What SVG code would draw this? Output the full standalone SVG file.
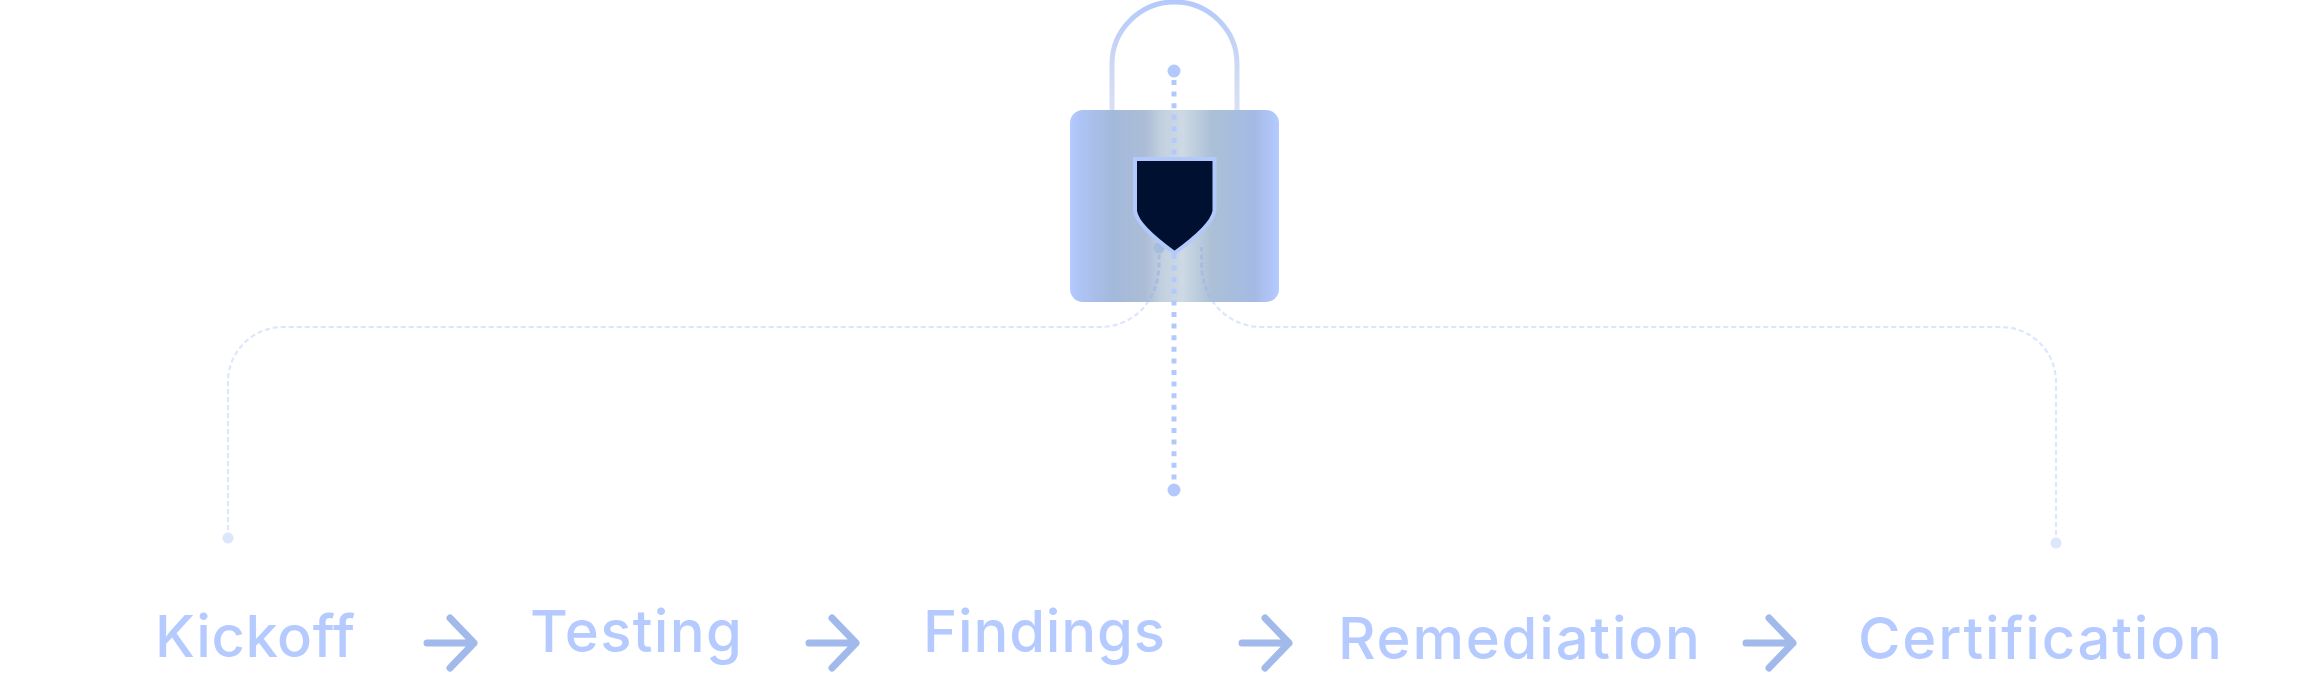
<svg xmlns="http://www.w3.org/2000/svg" width="2302" height="684" viewBox="0 0 2302 684">
<style>
.lbl{font-family:"Inter","Liberation Sans",sans-serif;font-size:58px;font-weight:500;fill:#b5caff}
.arrow{fill:none;stroke:#a2b9ec;stroke-width:7;stroke-linecap:round;stroke-linejoin:round}
.side{fill:none;stroke:#dce6fd;stroke-width:2.200;stroke-dasharray:5 3}
.sidein{fill:none;stroke:#a7bde0;stroke-width:3;stroke-dasharray:5 3}
.mid{fill:none;stroke:#b3c9fb;stroke-width:5;stroke-dasharray:5 6.6}
</style>
<defs>
<linearGradient id="body" x1="0" x2="1" y1="0" y2="0">
<stop offset="0" stop-color="#b5caff"/><stop offset=".04" stop-color="#aec4f6"/><stop offset=".2" stop-color="#a3b9dc"/><stop offset=".36" stop-color="#abbdd6"/><stop offset=".44" stop-color="#c3d0df"/><stop offset=".54" stop-color="#cdd9e4"/><stop offset=".68" stop-color="#abc0d6"/><stop offset=".88" stop-color="#a4bae4"/><stop offset="1" stop-color="#b5caff"/>
</linearGradient>
<linearGradient id="shackle" gradientUnits="userSpaceOnUse" x1="0" x2="0" y1="0" y2="110">
<stop offset="0" stop-color="#b3c9fb"/><stop offset=".55" stop-color="#cbd7f3"/><stop offset="1" stop-color="#d8e0f2"/>
</linearGradient>
<clipPath id="bodyclip"><rect x="1070" y="110" width="209" height="192"/></clipPath>
<path id="leftline" d="M228 538V382A55 55 0 0 1 283 327H1100C1130 327 1159 305 1159 262V254"/>
<path id="rightline" d="M2056 543V382A55 55 0 0 0 2001 327H1262C1232 327 1201.500 305 1201.500 262V247"/>
</defs>
<g id="connectors">
<use href="#leftline" class="side"/>
<use href="#rightline" class="side"/>
</g>
<g id="lock">
<path d="M1112 110V64C1112 30 1140 2 1174.500 2S1237 30 1237 64V110" fill="none" stroke="url(#shackle)" stroke-width="5"/>
<rect x="1070" y="110" width="209" height="192" rx="13" fill="url(#body)"/>
<g clip-path="url(#bodyclip)">
<use href="#leftline" class="sidein"/>
<use href="#rightline" class="sidein"/>
</g>
<circle cx="1159" cy="248" r="5.500" fill="#a7bde0"/>
</g>
<g id="centre-line">
<path class="mid" d="M1174 80V484"/>
<circle cx="1174" cy="71" r="6.500" fill="#b3c9fb"/>
<circle cx="1174" cy="490" r="6.500" fill="#b3c9fb"/>
</g>
<g id="shield">
<path d="M1135 159H1214.500V211Q1212 226 1174.500 253Q1137 226 1135 211Z" fill="#001030" stroke="#b3c9fb" stroke-width="4"/>
</g>
<g id="dots">
<circle cx="228" cy="538" r="5.500" fill="#dce6fd"/>
<circle cx="2056" cy="543" r="5.500" fill="#dce6fd"/>
</g>
<g id="kickoff"><text class="lbl" x="155" y="657" textLength="200">Kickoff</text></g>
<g id="testing"><text class="lbl" x="530" y="652" textLength="212">Testing</text></g>
<g id="findings"><text class="lbl" x="923" y="652" textLength="242">Findings</text></g>
<g id="remediation"><text class="lbl" x="1338" y="659" textLength="362">Remediation</text></g>
<g id="certification"><text class="lbl" x="1858" y="659" textLength="364">Certification</text></g>
<g id="arrows">
<path class="arrow" d="M427 643H474M450 618L474 643L450 668"/>
<path class="arrow" d="M809 643H856M832 618L856 643L832 668"/>
<path class="arrow" d="M1242 643H1289M1265 618L1289 643L1265 668"/>
<path class="arrow" d="M1746 643H1793M1769 618L1793 643L1769 668"/>
</g>
</svg>
